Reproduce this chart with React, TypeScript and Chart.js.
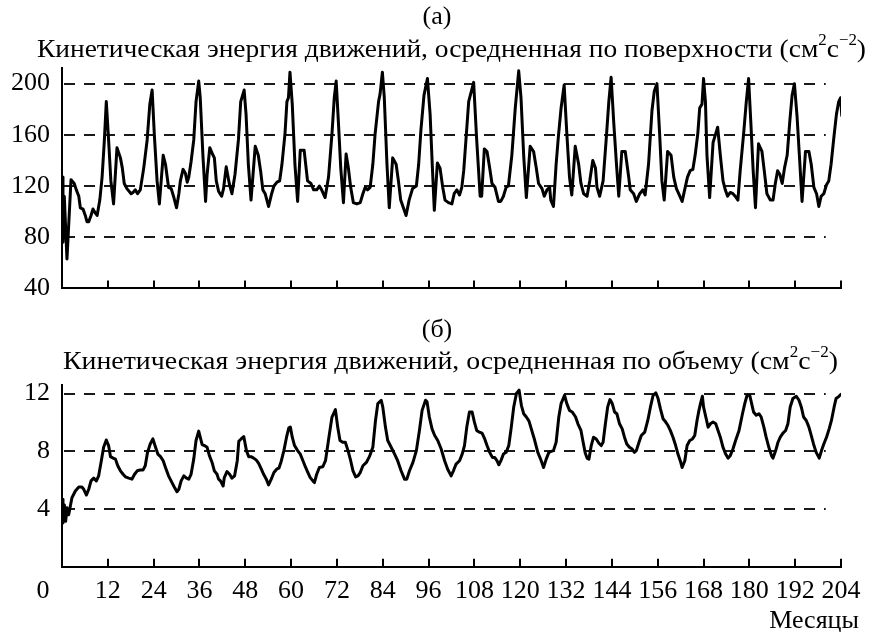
import React, { useEffect, useRef } from 'react';
import { Chart, registerables } from 'chart.js';

Chart.register(...registerables);

const FONT = '"Liberation Serif", "Times New Roman", Times, serif';

// ---- Panel (a): surface-averaged kinetic energy (cm^2 s^-2) ----
const surfaceMonths = [
  0, 0.26, 0.6, 1.3, 2.36, 3.2, 3.75, 4.4, 4.8, 5.5,
  6.1, 6.55, 7.0, 7.6, 8.1, 8.7, 9.2, 9.9, 10.5, 11.1,
  11.6, 12.2, 12.8, 13.5, 14.4, 15.3, 15.8, 16.3, 17.0, 18.1,
  18.6, 19.2, 19.8, 20.5, 21.4, 22.3, 23.0, 23.6, 24.2, 24.9,
  25.5, 26.5, 27.1, 27.9, 28.6, 29.3, 30.0, 30.6, 31.0, 31.7,
  32.3, 32.8, 33.2, 33.8, 34.5, 35.1, 35.8, 36.2, 36.9, 37.6,
  38.0, 38.7, 39.4, 39.9, 40.4, 41.0, 41.8, 42.3, 43.0, 43.8,
  44.5, 45.3, 46.2, 46.8, 47.7, 48.2, 48.8, 49.5, 50.6, 51.4,
  52.0, 52.6, 53.2, 54.1, 54.9, 55.5, 56.3, 57.0, 57.6, 58.4,
  58.9, 59.3, 59.7, 60.3, 61.0, 61.7, 62.4, 63.4, 64.3, 65.2,
  65.9, 66.7, 67.4, 68.0, 68.9, 69.8, 70.7, 71.3, 71.8, 72.4,
  73.0, 73.7, 74.4, 75.0, 75.6, 76.3, 77.2, 78.1, 78.8, 79.4,
  80.0, 80.7, 81.4, 82.0, 82.9, 83.3, 83.9, 84.4, 85.1, 85.7,
  86.6, 87.5, 88.1, 88.7, 89.4, 90.1, 90.9, 91.8, 92.8, 93.4,
  94.0, 94.8, 95.7, 96.4, 97.0, 97.5, 98.3, 99.0, 99.7, 100.3,
  101.2, 102.1, 102.7, 103.4, 104.1, 104.7, 105.2, 105.9, 106.5, 107.8,
  108.6, 109.5, 109.9, 110.6, 111.3, 112.0, 112.6, 113.4, 114.3, 114.9,
  115.6, 116.3, 116.9, 117.8, 118.7, 119.6, 120.2, 120.9, 121.6, 122.6,
  123.5, 124.2, 124.8, 125.7, 126.3, 127.0, 127.7, 128.0, 128.7, 129.4,
  130.0, 130.7, 131.5, 132.2, 132.9, 133.5, 134.4, 135.3, 135.9, 136.6,
  137.5, 138.2, 139.0, 139.7, 140.1, 140.8, 141.7, 142.5, 143.2, 143.8,
  144.5, 145.2, 145.8, 146.6, 147.5, 148.4, 148.8, 149.7, 150.4, 151.3,
  152.1, 152.7, 153.6, 154.5, 155.1, 155.8, 156.5, 157.1, 157.7, 158.6,
  159.5, 160.2, 160.9, 161.5, 162.4, 163.2, 163.8, 164.5, 165.2, 165.8,
  166.5, 167.0, 167.6, 168.0, 168.5, 168.9, 169.6, 170.5, 171.1, 171.7,
  172.4, 173.1, 173.7, 174.3, 175.0, 175.7, 176.3, 177.0, 177.6, 178.5,
  179.2, 179.8, 180.4, 181.0, 181.6, 182.4, 183.3, 183.9, 184.6, 185.5,
  186.2, 186.8, 187.4, 188.0, 188.6, 189.2, 189.9, 190.6, 191.2, 191.8,
  192.5, 193.2, 193.8, 194.7, 195.6, 196.2, 196.9, 197.6, 198.2, 198.8,
  199.5, 200.2, 200.8, 201.4, 202.1, 202.8, 203.4, 203.9, 204.2,
];
const surfaceKE = [
  127, 76, 112, 63, 125, 122, 117, 112, 103, 102,
  97, 92, 92, 97, 102, 99, 97, 109, 127, 156,
  186, 156, 124, 106, 150, 142, 134, 122, 118, 114,
  115, 117, 114, 117, 134, 156, 184, 195, 159, 124,
  106, 144, 137, 119, 118, 111, 103, 114, 124, 133,
  130, 123, 127, 139, 156, 186, 202, 189, 144, 108,
  129, 150, 145, 142, 124, 116, 112, 118, 135, 122,
  114, 129, 156, 186, 195, 176, 137, 109, 151, 144,
  132, 117, 114, 104, 114, 120, 123, 124, 137, 161,
  186, 189, 209, 184, 137, 108, 148, 148, 124, 122,
  117, 117, 120, 117, 111, 127, 161, 189, 202, 169,
  134, 107, 145, 134, 119, 107, 106, 107, 114, 119,
  117, 119, 137, 161, 186, 192, 209, 189, 137, 103,
  142, 137, 124, 109, 103, 97, 109, 118, 120, 137,
  164, 191, 204, 176, 134, 101, 138, 134, 119, 109,
  107, 106, 114, 117, 113, 119, 132, 161, 186, 201,
  156, 112, 112, 149, 147, 134, 122, 119, 108, 108,
  112, 119, 120, 144, 181, 210, 189, 144, 111, 151,
  147, 134, 122, 118, 112, 117, 119, 109, 104, 137,
  159, 181, 199, 161, 127, 113, 151, 137, 122, 114,
  112, 124, 140, 134, 119, 112, 124, 156, 186, 205,
  169, 137, 112, 147, 147, 127, 117, 114, 108, 114,
  117, 113, 137, 179, 194, 200, 161, 124, 109, 147,
  144, 127, 118, 114, 108, 119, 127, 132, 133, 144,
  161, 181, 184, 204, 186, 144, 111, 154, 160, 166,
  144, 124, 117, 112, 115, 114, 112, 109, 132, 161,
  186, 204, 169, 132, 103, 153, 147, 132, 114, 109,
  109, 122, 132, 129, 122, 134, 144, 171, 191, 200,
  174, 139, 108, 147, 147, 137, 119, 114, 104, 112,
  114, 121, 124, 137, 157, 176, 186, 189, 175,
];

// ---- Panel (б): volume-averaged kinetic energy (cm^2 s^-2) ----
const volumeMonths = [
  0, 0.26, 0.6, 0.96, 1.3, 1.75, 2.6, 3.5, 4.4, 5.2,
  5.7, 6.4, 7.0, 7.6, 8.3, 9.0, 9.6, 10.3, 10.9, 11.6,
  12.2, 12.7, 13.4, 14.0, 14.6, 15.3, 16.0, 16.6, 17.5, 18.3,
  19.0, 19.7, 20.5, 21.2, 21.8, 22.4, 23.1, 23.8, 24.5, 25.1,
  25.8, 26.5, 27.1, 27.9, 28.8, 29.4, 30.1, 30.6, 31.2, 31.9,
  32.6, 33.2, 33.8, 34.5, 35.1, 35.8, 36.2, 36.7, 37.3, 38.0,
  38.6, 39.3, 39.9, 40.6, 41.0, 41.5, 42.2, 42.5, 43.2, 43.9,
  44.5, 45.2, 45.9, 46.3, 46.9, 47.6, 48.3, 48.9, 49.5, 50.2,
  50.9, 51.5, 52.2, 52.8, 53.5, 54.1, 54.8, 55.5, 56.2, 56.8,
  57.4, 58.1, 58.8, 59.4, 59.8, 60.3, 60.9, 61.7, 62.4, 63.1,
  63.8, 64.4, 65.0, 65.7, 66.1, 66.7, 67.4, 68.3, 69.0, 69.9,
  70.7, 71.6, 72.2, 72.8, 73.5, 74.2, 74.9, 75.6, 76.2, 76.9,
  77.5, 78.1, 78.8, 79.7, 80.5, 81.4, 82.1, 82.7, 83.6, 84.0,
  84.7, 85.3, 86.2, 87.1, 87.9, 88.8, 89.7, 90.3, 91.0, 91.9,
  92.8, 93.6, 94.3, 95.2, 95.6, 96.2, 96.9, 97.6, 98.4, 99.3,
  100.2, 101.0, 101.9, 102.5, 103.2, 104.1, 104.8, 105.4, 106.0, 106.7,
  107.4, 108.0, 108.6, 109.3, 110.0, 110.7, 111.3, 112.0, 112.7, 113.3,
  113.9, 114.4, 115.0, 115.6, 116.3, 117.0, 117.6, 118.3, 119.0, 119.7,
  120.3, 120.9, 121.6, 122.3, 122.9, 123.8, 124.6, 125.5, 126.1, 126.8,
  127.5, 128.1, 128.7, 129.4, 130.1, 130.7, 131.6, 132.2, 132.9, 133.6,
  134.5, 135.1, 135.9, 136.5, 137.0, 137.5, 138.0, 138.6, 139.2, 139.9,
  140.6, 141.2, 141.7, 142.3, 142.9, 143.5, 144.1, 144.7, 145.3, 146.0,
  146.7, 147.3, 147.9, 148.6, 149.3, 149.9, 150.4, 151.1, 151.7, 152.6,
  153.4, 154.1, 154.8, 155.5, 156.1, 156.7, 157.4, 158.1, 158.7, 159.3,
  160.0, 160.7, 161.3, 161.9, 162.4, 163.1, 163.7, 164.4, 165.1, 165.7,
  166.3, 166.8, 167.2, 167.7, 168.0, 168.6, 169.2, 169.8, 170.5, 171.2,
  171.8, 172.4, 173.1, 173.8, 174.4, 175.0, 175.7, 176.4, 177.3, 178.2,
  178.8, 179.4, 180.1, 180.6, 181.1, 181.8, 182.5, 183.1, 183.8, 184.4,
  185.1, 185.8, 186.2, 186.9, 187.5, 188.1, 188.8, 189.5, 190.1, 190.7,
  191.4, 192.3, 193.0, 193.6, 194.2, 194.9, 195.6, 196.2, 196.8, 197.5,
  198.3, 198.9, 199.5, 200.2, 200.9, 201.5, 202.2, 202.7, 203.3, 204.0,
];
const volumeKE = [
  4.67, 3.03, 4.3, 3.15, 4.08, 3.6, 4.78, 5.25, 5.53, 5.53,
  5.37, 4.97, 5.37, 5.95, 6.14, 5.95, 6.3, 7.35, 8.28, 8.79,
  8.4, 7.63, 7.53, 7.46, 7.0, 6.65, 6.41, 6.23, 6.14, 6.07,
  6.41, 6.65, 6.7, 6.7, 7.0, 7.93, 8.51, 8.86, 8.28, 7.81,
  7.63, 7.35, 6.88, 6.3, 5.83, 5.53, 5.2, 5.37, 5.95, 6.3,
  6.14, 6.07, 6.41, 7.46, 8.75, 9.4, 8.98, 8.47, 8.4, 8.28,
  7.7, 7.23, 6.65, 6.41, 6.07, 5.95, 5.6, 6.18, 6.6, 6.41,
  6.14, 6.3, 7.35, 8.7, 8.86, 9.03, 8.05, 7.63, 7.63, 7.53,
  7.39, 7.16, 6.76, 6.41, 6.07, 5.67, 6.07, 6.53, 6.76, 6.83,
  7.3, 8.05, 8.98, 9.63, 9.68, 8.98, 8.4, 8.05, 7.81, 7.35,
  6.88, 6.53, 6.18, 5.95, 5.83, 6.41, 6.88, 6.93, 7.35, 8.98,
  10.38, 10.89, 9.68, 8.75, 8.63, 8.63, 8.05, 7.35, 6.65, 6.23,
  6.3, 6.53, 7.0, 7.23, 7.63, 8.28, 10.14, 11.31, 11.54, 11.08,
  9.68, 8.75, 8.28, 7.81, 7.35, 6.65, 6.07, 6.07, 6.65, 7.23,
  8.05, 9.45, 10.84, 11.54, 11.43, 10.38, 9.56, 9.1, 8.75, 8.16,
  7.35, 6.76, 6.3, 6.65, 7.11, 7.35, 7.81, 8.4, 9.68, 10.73,
  10.73, 10.03, 9.45, 9.33, 9.26, 8.86, 8.4, 7.93, 7.58, 7.58,
  7.35, 7.07, 7.39, 7.81, 7.93, 8.4, 9.56, 11.08, 12.01, 12.24,
  11.19, 10.61, 10.38, 10.1, 9.56, 8.75, 7.93, 7.35, 6.88, 7.46,
  7.93, 8.0, 8.05, 8.63, 10.38, 11.31, 11.89, 11.31, 10.84, 10.73,
  10.38, 9.91, 9.45, 8.6, 7.9, 7.53, 7.46, 8.4, 8.98, 8.86,
  8.56, 8.4, 8.63, 9.91, 11.08, 11.59, 11.31, 10.73, 10.61, 9.91,
  9.56, 8.98, 8.51, 8.28, 8.16, 7.93, 8.05, 8.63, 9.1, 9.33,
  10.14, 11.08, 11.89, 12.06, 11.66, 10.96, 10.26, 10.03, 9.79, 9.45,
  8.98, 8.4, 7.81, 7.35, 6.88, 7.35, 8.4, 8.75, 8.86, 9.1,
  10.14, 10.84, 11.31, 11.82, 11.08, 10.38, 9.68, 9.91, 10.03, 9.91,
  9.45, 8.98, 8.28, 7.81, 7.53, 7.7, 8.16, 8.75, 9.45, 10.61,
  11.31, 11.89, 11.89, 11.31, 10.73, 10.5, 10.61, 10.38, 9.68, 8.98,
  8.28, 7.7, 7.53, 8.05, 8.63, 8.98, 9.26, 9.45, 9.91, 11.08,
  11.66, 11.82, 11.54, 11.08, 10.38, 10.14, 9.68, 9.1, 8.51, 7.93,
  7.53, 8.05, 8.51, 8.98, 9.56, 10.14, 11.08, 11.66, 11.78, 11.96,
];

// ---- Axes / ticks ----
const monthTicks = [0, 12, 24, 36, 48, 60, 72, 84, 96, 108, 120, 132, 144, 156, 168, 180, 192, 204];
const surfaceTicks = [40, 80, 120, 160, 200];
const surfaceGridLines = [80, 120, 160, 200];
const volumeTicks = [4, 8, 12];
const volumeGridLines = [4, 8, 12];
const gridEndMonth = 200;

const surfaceTitle = [
  { text: 'Кинетическая энергия движений, осредненная по поверхности (см', sup: false },
  { text: '2', sup: true },
  { text: 'с', sup: false },
  { text: '−2', sup: true },
  { text: ')', sup: false },
];
const volumeTitle = [
  { text: 'Кинетическая энергия движений, осредненная по объему (см', sup: false },
  { text: '2', sup: true },
  { text: 'с', sup: false },
  { text: '−2', sup: true },
  { text: ')', sup: false },
];
const xAxisTitle = 'Месяцы';

type Seg = { text: string; sup: boolean };
type Spec = {
  months: number[];
  values: number[];
  yMin: number;
  yMax: number;
  yTicks: number[];
  gridValues: number[];
  padTop: number;
  xHeight: number;
  showXLabels: boolean;
  tag: string;
  tagY: number;
  title: Seg[];
  titleLeft: number;
  titleRight: number;
  titleY: number;
};

function drawRich(ctx: CanvasRenderingContext2D, segs: Seg[], left: number, right: number, midY: number) {
  const base = `26px ${FONT}`;
  const small = `16px ${FONT}`;
  let total = 0;
  const widths: number[] = [];
  for (const s of segs) {
    ctx.font = s.sup ? small : base;
    const w = ctx.measureText(s.text).width;
    widths.push(w);
    total += w;
  }
  const sx = (right - left) / total;
  ctx.save();
  ctx.translate(left, midY);
  ctx.scale(sx, 1);
  ctx.fillStyle = '#000';
  ctx.textAlign = 'left';
  ctx.textBaseline = 'middle';
  let x = 0;
  segs.forEach((s, i) => {
    ctx.font = s.sup ? small : base;
    ctx.fillText(s.text, x, s.sup ? -9 : 0);
    x += widths[i];
  });
  ctx.restore();
}

function decorPlugin(spec: Spec) {
  return {
    id: 'panelDecor',
    beforeDatasetsDraw(chart: any) {
      const { ctx, chartArea } = chart;
      const xs = chart.scales.x;
      const ys = chart.scales.y;
      ctx.save();
      ctx.strokeStyle = '#1a1a1a';
      ctx.lineWidth = 2;
      ctx.setLineDash([11, 9]);
      const x0 = xs.getPixelForValue(0) + 2;
      const x1 = xs.getPixelForValue(gridEndMonth);
      for (const v of spec.gridValues) {
        const y = Math.round(ys.getPixelForValue(v));
        ctx.beginPath();
        ctx.moveTo(x0, y);
        ctx.lineTo(x1, y);
        ctx.stroke();
      }
      ctx.setLineDash([]);
      ctx.strokeStyle = '#000';
      for (const m of monthTicks) {
        if (m === 0) continue;
        const x = Math.round(xs.getPixelForValue(m));
        ctx.beginPath();
        ctx.moveTo(x, chartArea.bottom);
        ctx.lineTo(x, chartArea.bottom - 8);
        ctx.stroke();
      }
      ctx.restore();
    },
    afterDraw(chart: any) {
      const { ctx, chartArea } = chart;
      const xs = chart.scales.x;
      ctx.save();
      ctx.fillStyle = '#000';
      ctx.font = `26px ${FONT}`;
      ctx.textAlign = 'center';
      ctx.textBaseline = 'middle';
      ctx.fillText(spec.tag, 437, spec.tagY);
      drawRich(ctx, spec.title, spec.titleLeft, spec.titleRight, spec.titleY);
      if (spec.showXLabels) {
        ctx.font = `26px ${FONT}`;
        ctx.textAlign = 'center';
        ctx.textBaseline = 'middle';
        ctx.fillText('0', xs.getPixelForValue(0) - 19, chartArea.bottom + 9 + 15.6);
        ctx.textAlign = 'right';
        ctx.textBaseline = 'alphabetic';
        ctx.fillText(xAxisTitle, chartArea.right + 18, chartArea.bottom + 61);
      }
      ctx.restore();
    },
  };
}

function makeChart(canvas: HTMLCanvasElement, spec: Spec) {
  const n = Math.min(spec.months.length, spec.values.length);
  const data = spec.months.slice(0, n).map((m, i) => ({ x: m, y: spec.values[i] }));
  return new Chart(canvas, {
    type: 'line',
    data: {
      datasets: [
        {
          data,
          borderColor: '#000',
          borderWidth: 3,
          pointRadius: 0,
          tension: 0,
          borderJoinStyle: 'round',
          borderCapStyle: 'round',
          fill: false,
        },
      ],
    },
    options: {
      responsive: false,
      animation: false,
      devicePixelRatio: 1,
      events: [],
      layout: { autoPadding: false, padding: { left: 0, right: 31, top: spec.padTop, bottom: 0 } },
      plugins: { legend: { display: false }, tooltip: { enabled: false }, title: { display: false } },
      scales: {
        x: {
          type: 'linear',
          min: 0,
          max: 204,
          afterBuildTicks: (s: any) => {
            s.ticks = monthTicks.map((v) => ({ value: v }));
          },
          afterFit: (s: any) => {
            s.height = spec.xHeight;
          },
          grid: { display: true, drawOnChartArea: false, drawTicks: false },
          border: { display: true, color: '#000', width: 2 },
          ticks: {
            display: spec.showXLabels,
            autoSkip: false,
            maxRotation: 0,
            minRotation: 0,
            padding: 9,
            color: '#000',
            font: { family: FONT, size: 26 },
            callback: (v: any) => (v === 0 ? '' : String(v)),
          },
        },
        y: {
          type: 'linear',
          min: spec.yMin,
          max: spec.yMax,
          afterBuildTicks: (s: any) => {
            s.ticks = spec.yTicks.map((v) => ({ value: v }));
          },
          afterFit: (s: any) => {
            s.width = 62;
          },
          grid: { display: true, drawOnChartArea: false, drawTicks: false },
          border: { display: true, color: '#000', width: 2 },
          ticks: { padding: 12, color: '#000', font: { family: FONT, size: 26 } },
        },
      },
    } as any,
    plugins: [decorPlugin(spec)],
  });
}

const topSpec: Spec = {
  months: surfaceMonths,
  values: surfaceKE,
  yMin: 40,
  yMax: 212,
  yTicks: surfaceTicks,
  gridValues: surfaceGridLines,
  padTop: 68.3,
  xHeight: 16.7,
  showXLabels: false,
  tag: '(а)',
  tagY: 17,
  title: surfaceTitle,
  titleLeft: 37,
  titleRight: 866,
  titleY: 50,
};

const bottomSpec: Spec = {
  months: volumeMonths,
  values: volumeKE,
  yMin: 0,
  yMax: 12.6,
  yTicks: volumeTicks,
  gridValues: volumeGridLines,
  padTop: 69,
  xHeight: 65.3,
  showXLabels: true,
  tag: '(б)',
  tagY: 14,
  title: volumeTitle,
  titleLeft: 63,
  titleRight: 838,
  titleY: 46,
};

export default function App() {
  const topRef = useRef<HTMLCanvasElement>(null);
  const botRef = useRef<HTMLCanvasElement>(null);
  useEffect(() => {
    const charts = [makeChart(topRef.current!, topSpec), makeChart(botRef.current!, bottomSpec)];
    return () => charts.forEach((c) => c.destroy());
  }, []);
  return (
    <div style={{ position: 'absolute', left: 0, top: 0, width: 872, height: 632, background: '#fff' }}>
      <canvas ref={topRef} width={872} height={316} style={{ display: 'block', width: 872, height: 316 }} />
      <canvas ref={botRef} width={872} height={316} style={{ display: 'block', width: 872, height: 316 }} />
    </div>
  );
}
